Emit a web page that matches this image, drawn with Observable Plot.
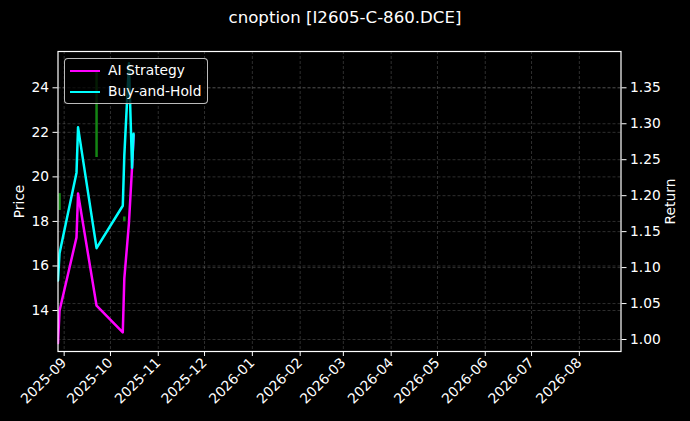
<!DOCTYPE html>
<html><head><meta charset="utf-8">
<script src="https://cdn.jsdelivr.net/npm/d3@7"></script>
<script src="https://cdn.jsdelivr.net/npm/@observablehq/plot@0.6"></script>
<style>
html,body{margin:0;padding:0;background:#000;}
#wrap{position:relative;width:690px;height:421px;background:#000;font-family:"DejaVu Sans",sans-serif;color:#fff;overflow:hidden;}
#title{position:absolute;left:0;top:0;width:690px;height:40px;text-align:center;font-size:16.6px;line-height:16.6px;padding-top:10px;box-sizing:border-box;}
#chart{position:absolute;left:0;top:40px;}
#legend{position:absolute;left:64px;top:58px;width:144px;height:46px;box-sizing:border-box;border:1px solid rgba(220,220,220,0.85);border-radius:4px;background:rgba(0,0,0,0.8);}
.lg-row{position:absolute;left:0;height:20px;width:140px;}
.lg-line{position:absolute;left:5px;top:9px;width:30px;height:2.4px;}
.lg-text{position:absolute;left:43px;top:1px;font-size:13.8px;line-height:16px;color:#fff;white-space:nowrap;}
</style></head>
<body>
<div id="wrap">
  <div id="title">cnoption [I2605-C-860.DCE]</div>
  <div id="chart"></div>
  <div id="legend"></div>
</div>
<script>
// ---- data ----
const dates = ["2025-08-28","2025-08-29","2025-09-09","2025-09-10","2025-09-22","2025-10-09","2025-10-10","2025-10-13","2025-10-15","2025-10-16"];
const aiReturn = [0.995, 1.040, 1.142, 1.203, 1.047, 1.010, 1.085, 1.162, 1.239, 1.284];
const bhReturn = [1.082, 1.120, 1.232, 1.295, 1.127, 1.186, 1.256, 1.384, 1.239, 1.286];
const candleDates = ["2025-08-29","2025-09-22","2025-10-10"];
const candleLow = [18.49, 20.87, 18.00];
const candleHigh = [19.25, 24.78, 18.20];
const priceTicks = [14, 16, 18, 20, 22, 24];
const returnTicks = [1.00, 1.05, 1.10, 1.15, 1.20, 1.25, 1.30, 1.35];
const monthTicks = ["2025-09-01","2025-10-01","2025-11-01","2025-12-01","2026-01-01","2026-02-01","2026-03-01","2026-04-01","2026-05-01","2026-06-01","2026-07-01","2026-08-01"];
const seriesNames = ["AI Strategy", "Buy-and-Hold"];
const seriesColors = ["#ff00ff", "#00ffff"];
const xDomain = ["2025-08-28", "2026-08-28"];
const priceDomain = [12.16, 25.63];

// ---- helpers ----
const parse = d3.utcParse("%Y-%m-%d");
const toPrice = r => 24 + (r - 1.35) * 32.29;
const fromPrice = p => (p - 24) / 32.29 + 1.35;

const lineData = [];
[aiReturn, bhReturn].forEach((arr, si) => {
  arr.forEach((v, i) => lineData.push({series: seriesNames[si], date: parse(dates[i]), ret: v}));
});
const candles = candleDates.map((d, i) => ({date: parse(d), low: candleLow[i], high: candleHigh[i]}));
const months = monthTicks.map(parse);

const chart = Plot.plot({
  width: 690,
  height: 381,
  marginTop: 11,
  marginBottom: 70,
  marginLeft: 57.5,
  marginRight: 69.5,
  style: {background: "#000", color: "#fff", fontFamily: "DejaVu Sans, sans-serif", fontSize: "13.8px"},
  x: {type: "utc", domain: xDomain.map(parse)},
  y: {domain: priceDomain},
  marks: [
    Plot.gridX(months, {stroke: "#9a9a9a", strokeOpacity: 0.5, strokeWidth: 0.6, strokeDasharray: "3,2"}),
    Plot.gridY(priceTicks, {stroke: "#9a9a9a", strokeOpacity: 0.5, strokeWidth: 0.6, strokeDasharray: "3,2"}),
    Plot.gridY(returnTicks.map(toPrice), {stroke: "#9a9a9a", strokeOpacity: 0.5, strokeWidth: 0.6, strokeDasharray: "3,2"}),
    Plot.ruleX(candles, {x: "date", y1: "low", y2: "high", stroke: "#169416", strokeWidth: 2.5, strokeOpacity: 0.9}),
    Plot.line(lineData, {x: "date", y: d => toPrice(d.ret), z: "series",
      stroke: d => seriesColors[seriesNames.indexOf(d.series)], strokeWidth: 2.5, clip: true}),
    Plot.frame({stroke: "#fff", strokeWidth: 1.2}),
    Plot.axisY(priceTicks, {anchor: "left", tickSize: 5, tickPadding: 4, label: "Price", labelArrow: "none", labelAnchor: "center", labelOffset: 44}),
    Plot.axisY(returnTicks.map(toPrice), {anchor: "right", tickSize: 5, tickPadding: 4, tickFormat: d => fromPrice(d).toFixed(2), label: "Return", labelArrow: "none", labelAnchor: "center", labelOffset: 54}),
    Plot.axisX(months, {anchor: "bottom", tickSize: 5, tickPadding: 4, tickRotate: -45, tickFormat: d3.utcFormat("%Y-%m"), label: null})
  ]
});
document.getElementById("chart").appendChild(chart);

// legend
const lg = document.getElementById("legend");
seriesNames.forEach((name, i) => {
  const row = document.createElement("div");
  row.className = "lg-row";
  row.style.top = (2 + i * 20.7) + "px";
  row.innerHTML = `<div class="lg-line" style="background:${seriesColors[i]}"></div><div class="lg-text">${name}</div>`;
  lg.appendChild(row);
});
</script>
</body></html>
